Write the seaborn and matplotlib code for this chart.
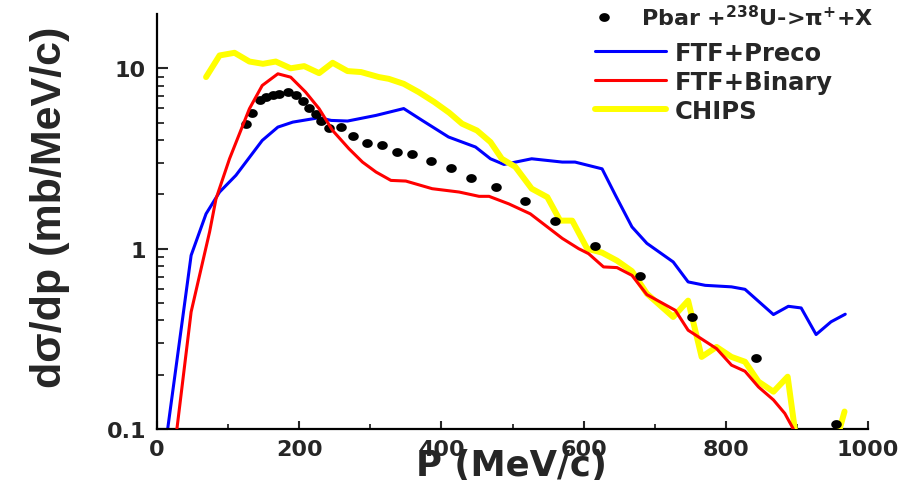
import numpy as np
import matplotlib
matplotlib.use("Agg")
import matplotlib.pyplot as plt
import seaborn as sns
from matplotlib.path import Path
from matplotlib.lines import Line2D
from matplotlib.ticker import FixedLocator, FixedFormatter, NullFormatter

# Measured pi+ yield in pbar + 238U
data_p = [125, 134, 145, 153, 163, 172, 184, 195, 205, 214, 223, 230, 242, 259, 276,
          295, 317, 337, 359, 385, 413, 442, 477, 517, 560, 616, 680, 752, 842, 955]
data_v = [4.88, 5.67, 6.69, 6.92, 7.07, 7.22, 7.38, 7.13, 6.58, 6.02, 5.60, 5.07, 4.66, 4.70, 4.19,
          3.87, 3.77, 3.43, 3.36, 3.05, 2.79, 2.48, 2.20, 1.84, 1.43, 1.035, 0.706, 0.418, 0.246, 0.107]

# FTF+Preco model
preco_p = [15, 48, 69, 88, 111, 148, 170, 191, 228, 245, 268, 308, 347, 373, 410, 448, 469, 488,
           527, 570, 588, 626, 645, 668, 689, 726, 747, 771, 808, 827, 867, 888, 906, 927, 948, 968]
preco_v = [0.1, 0.918, 1.56, 2.06, 2.55, 3.98, 4.72, 5.03, 5.32, 5.14, 5.10, 5.48, 5.98, 5.14, 4.16,
           3.66, 3.15, 2.93, 3.15, 3.02, 3.02, 2.77, 1.97, 1.32, 1.07, 0.844, 0.654, 0.626, 0.614,
           0.595, 0.431, 0.479, 0.469, 0.334, 0.393, 0.433]

# FTF+Binary model
binary_p = [28, 48, 74, 83, 102, 130, 148, 170, 188, 209, 228, 247, 270, 289, 308, 329, 350, 387,
            425, 453, 467, 495, 525, 570, 593, 607, 628, 647, 668, 689, 729, 747, 787, 808, 827,
            846, 867, 883, 895]
binary_v = [0.1, 0.446, 1.24, 1.89, 3.15, 5.97, 8.03, 9.32, 8.93, 7.38, 5.97, 4.52, 3.58, 3.02, 2.66,
            2.39, 2.37, 2.15, 2.06, 1.95, 1.95, 1.77, 1.56, 1.14, 1.0, 0.938, 0.792, 0.785, 0.711,
            0.556, 0.455, 0.353, 0.279, 0.226, 0.209, 0.171, 0.145, 0.122, 0.1]

# CHIPS model
chips_p = [69, 88, 109, 130, 149, 167, 188, 207, 228, 247, 268, 287, 312, 326, 347, 368, 390, 411,
           429, 450, 469, 485, 504, 527, 549, 567, 584, 605, 626, 647, 668, 689, 726, 747, 766,
           787, 808, 827, 846, 867, 887, 897, 906, 944, 967]
chips_v = [8.94, 11.78, 12.19, 10.9, 10.59, 10.9, 10.0, 10.28, 9.4, 10.73, 9.65, 9.53, 8.94, 8.74,
           8.2, 7.38, 6.5, 5.67, 4.93, 4.52, 3.90, 3.15, 2.84, 2.15, 1.93, 1.43, 1.43, 1.0, 0.95,
           0.858, 0.75, 0.563, 0.418, 0.515, 0.251, 0.285, 0.251, 0.236, 0.183, 0.161, 0.195,
           0.1, 0.06, 0.059, 0.125]

x_ticks = [0, 200, 400, 600, 800, 1000]
y_ticks = [0.1, 1, 10]
y_tick_labels = ["0.1", "1", "10"]

data_label = "Pbar +$^{238}$U->π$^{+}$+X"
model_labels = ["FTF+Preco", "FTF+Binary", "CHIPS"]
BLUE, RED, YELLOW = "#0000ff", "#ff0000", "#ffff00"

sns.set_style("white")
plt.rcParams["font.family"] = ["DejaVu Sans"]
plt.rcParams["font.weight"] = "bold"
plt.rcParams["mathtext.default"] = "bf"

fig = plt.figure(figsize=(9.18, 4.81), dpi=100)
W, H = 918, 481
ax = fig.add_axes([157 / W, 1 - 430 / H, (868 - 157) / W, (430 - 15) / H])

# slightly wide dot marker
t = np.linspace(0, 2 * np.pi, 40)
dot = Path(np.column_stack([1.2 * np.cos(t), np.sin(t)]), closed=True)

sns.lineplot(x=preco_p, y=preco_v, color=BLUE, lw=2.2, ax=ax, estimator=None, sort=False, zorder=2)
sns.lineplot(x=chips_p, y=chips_v, color=YELLOW, lw=4.3, ax=ax, estimator=None, sort=False, zorder=3)
sns.scatterplot(x=data_p, y=data_v, marker=dot, s=58, color="black", linewidth=0, ax=ax, zorder=4)
sns.lineplot(x=binary_p, y=binary_v, color=RED, lw=2.2, ax=ax, estimator=None, sort=False, zorder=5)

ax.set_yscale("log")
ax.set_xlim(0, 1000)
ax.set_ylim(0.1, 20)

ax.xaxis.set_major_locator(FixedLocator(x_ticks))
ax.xaxis.set_minor_locator(FixedLocator(list(range(100, 1000, 200))))
ax.yaxis.set_major_locator(FixedLocator(y_ticks))
ax.yaxis.set_major_formatter(FixedFormatter(y_tick_labels))
minor_y = [m * d for d in (0.1, 1, 10) for m in range(2, 10) if m * d < 20]
ax.yaxis.set_minor_locator(FixedLocator(minor_y))
ax.yaxis.set_minor_formatter(NullFormatter())

ax.tick_params(axis="x", which="major", direction="in", length=6, width=1.5, labelsize=16, pad=7,
               bottom=True)
ax.tick_params(axis="x", which="minor", direction="in", length=3.5, width=1.3, bottom=True)
ax.tick_params(axis="y", which="major", direction="in", length=8, width=1.5, labelsize=16, pad=8,
               left=True)
ax.tick_params(axis="y", which="minor", direction="in", length=5, width=1.3, left=True)
for lab in ax.get_xticklabels() + ax.get_yticklabels():
    lab.set_fontweight("bold")

sns.despine(ax=ax, top=True, right=True)
for side in ("left", "bottom"):
    ax.spines[side].set_linewidth(1.6)
    ax.spines[side].set_color("black")

ax.set_xlabel("")
ax.set_ylabel("")
fig.text(50 / W, 1 - 207 / H, "dσ/dp (mb/MeV/c)", rotation=90, ha="center", va="center",
         fontsize=31, fontweight="bold", family=["Liberation Sans", "DejaVu Sans"])
fig.text(511 / W, 1 - 476 / H, "P (MeV/c)", ha="center", va="baseline",
         fontsize=25.5, fontweight="bold")

# legend for the measured points
leg_data = ax.legend([Line2D([], [], ls="none", marker=dot, ms=7.6, color="black", mew=0)],
                     [data_label], loc="upper left", bbox_to_anchor=(588 / W, 1 - 5 / H),
                     bbox_transform=fig.transFigure, frameon=False,
                     prop={"weight": "bold", "size": 16}, handlelength=1.45, handletextpad=0.95,
                     borderpad=0, borderaxespad=0, numpoints=1)
ax.add_artist(leg_data)

# legend for the model curves
ax.legend([Line2D([], [], color=BLUE, lw=2.2), Line2D([], [], color=RED, lw=2.2),
           Line2D([], [], color=YELLOW, lw=4.3)],
          model_labels, loc="upper left", bbox_to_anchor=(595 / W, 1 - 42 / H),
          bbox_transform=fig.transFigure, frameon=False, prop={"weight": "bold", "size": 17.5},
          handlelength=2.92, handletextpad=0.37, labelspacing=0.2, borderpad=0, borderaxespad=0)

fig.savefig("out.png", dpi=100)
